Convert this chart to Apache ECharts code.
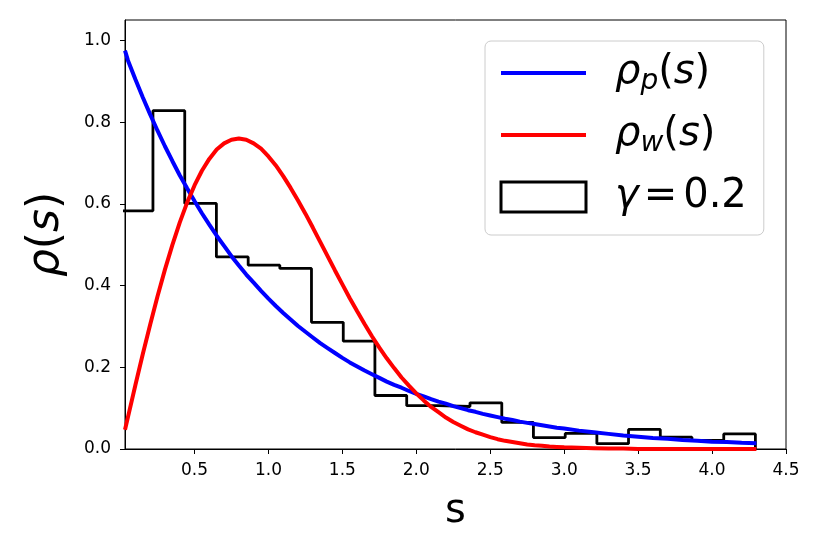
<!DOCTYPE html>
<html>
<head>
<meta charset="utf-8">
<script src="https://cdn.jsdelivr.net/npm/echarts@6/dist/echarts.min.js"></script>
<style>html,body{margin:0;padding:0;background:#fff;}#c{width:822px;height:548px;}</style>
</head>
<body>
<div id="c"></div>
<script>
// sampled s positions for the two reference curves
var sValues = [0.03,0.05,0.1,0.15,0.2,0.25,0.3,0.35,0.4,0.45,0.5,0.55,0.6,0.65,0.7,0.75,0.8,0.85,0.9,0.95,1.0,1.05,1.1,1.15,1.2,1.25,1.3,1.35,1.4,1.45,1.5,1.55,1.6,1.65,1.7,1.75,1.8,1.85,1.9,1.95,2.0,2.05,2.1,2.15,2.2,2.25,2.3,2.35,2.4,2.45,2.5,2.55,2.6,2.65,2.7,2.75,2.8,2.85,2.9,2.95,3.0,3.1,3.2,3.3,3.4,3.5,3.6,3.7,3.8,3.9,4.0,4.1,4.2,4.3];
// Poisson curve rho_p(s)
var poissonValues = [0.975,0.951,0.905,0.861,0.819,0.779,0.741,0.705,0.670,0.638,0.607,0.577,0.549,0.522,0.497,0.472,0.449,0.427,0.407,0.387,0.368,0.350,0.333,0.317,0.301,0.287,0.273,0.259,0.247,0.235,0.223,0.212,0.202,0.192,0.183,0.174,0.165,0.157,0.150,0.142,0.135,0.129,0.122,0.116,0.111,0.105,0.100,0.095,0.091,0.086,0.082,0.078,0.074,0.071,0.067,0.064,0.061,0.058,0.055,0.052,0.050,0.045,0.041,0.037,0.033,0.030,0.027,0.025,0.022,0.020,0.018,0.017,0.015,0.014];
// Wigner curve rho_w(s)
var wignerValues = [0.047,0.078,0.156,0.232,0.304,0.374,0.439,0.499,0.554,0.603,0.645,0.681,0.710,0.733,0.748,0.757,0.760,0.757,0.748,0.735,0.716,0.694,0.668,0.639,0.608,0.576,0.542,0.507,0.472,0.437,0.403,0.369,0.337,0.306,0.276,0.248,0.222,0.198,0.175,0.155,0.136,0.119,0.103,0.090,0.077,0.066,0.057,0.048,0.041,0.035,0.029,0.024,0.020,0.017,0.014,0.011,0.009,0.008,0.006,0.005,0.004,0.003,0.002,0.001,0.001,0.000,0.000,0.000,0.000,0.000,0.000,0.000,0.000,0.000];
// histogram (gamma = 0.2): bin edges and heights
var binEdges = [0.005,0.219,0.434,0.648,0.863,1.077,1.291,1.506,1.720,1.935,2.149,2.363,2.578,2.792,3.007,3.221,3.435,3.650,3.864,4.079,4.293];
var binHeights = [0.583,0.828,0.601,0.470,0.450,0.442,0.310,0.264,0.131,0.106,0.104,0.113,0.065,0.028,0.038,0.013,0.048,0.029,0.021,0.037];
// tick labels
var xTicks = [0.5,1.0,1.5,2.0,2.5,3.0,3.5,4.0,4.5];
var yTicks = [0.0,0.2,0.4,0.6,0.8,1.0];

var FONT = 'DejaVu Sans';
var histPoints = [[binEdges[0], 0]];
for (var i = 0; i < binHeights.length; i++) {
  histPoints.push([binEdges[i], binHeights[i]]);
  histPoints.push([binEdges[i + 1], binHeights[i]]);
}
histPoints.push([binEdges[binEdges.length - 1], 0]);

var legendRich = {
  it: {fontFamily: FONT, fontStyle: 'italic', fontSize: 40, color: '#000'},
  up: {fontFamily: FONT, fontSize: 40, color: '#000'},
  eq: {fontFamily: FONT, fontSize: 40, color: '#000', padding: [0, 6, 0, 5]},
  sub: {fontFamily: FONT, fontStyle: 'italic', fontSize: 28, color: '#000', padding: [18, 0, 0, 0]}
};
var axisRich = {
  it: {fontFamily: FONT, fontStyle: 'italic', fontSize: 44, color: '#000'},
  up: {fontFamily: FONT, fontSize: 44, color: '#000'}
};
var legendFmt = {
  'rho_p': '{it|ρ}{sub|p}{up|(}{it|s}{up|)}',
  'rho_w': '{it|ρ}{sub|w}{up|(}{it|s}{up|)}',
  'gamma': '{it|γ}{eq|=}{up|0.2}'
};

var chart = echarts.init(document.getElementById('c'), null, {renderer: 'canvas'});
chart.setOption({
  animation: false,
  backgroundColor: '#fff',
  grid: {left: 125, right: 36, top: 20, bottom: 99, show: true, borderColor: '#000', borderWidth: 1, backgroundColor: 'transparent'},
  xAxis: {
    type: 'value', min: 0.03, max: 4.5,
    name: 's', nameLocation: 'middle', nameGap: 43,
    nameTextStyle: {fontFamily: FONT, fontSize: 40, color: '#000'},
    axisLine: {show: true, onZero: false, lineStyle: {color: '#000', width: 1}},
    axisTick: {show: true, length: 5, lineStyle: {color: '#000', width: 1}, customValues: xTicks},
    axisLabel: {fontFamily: FONT, fontSize: 17, color: '#000', margin: 13, customValues: xTicks,
      formatter: function (v) { return v.toFixed(1); }},
    splitLine: {show: false}
  },
  yAxis: {
    type: 'value', min: 0, max: 1.05,
    name: '{it|ρ}{up|(}{it|s}{up|)}', nameLocation: 'middle', nameGap: 56, nameRotate: 90,
    nameTextStyle: {fontFamily: FONT, fontSize: 44, color: '#000', rich: axisRich},
    axisLine: {show: true, lineStyle: {color: '#000', width: 1}},
    axisTick: {show: true, length: 5, lineStyle: {color: '#000', width: 1}, customValues: yTicks},
    axisLabel: {fontFamily: FONT, fontSize: 17, color: '#000', margin: 14, customValues: yTicks,
      formatter: function (v) { return v.toFixed(1); }},
    splitLine: {show: false}
  },
  legend: {
    orient: 'vertical', left: 485, top: 41,
    padding: [12, 17, 18, 14], itemGap: 19,
    itemWidth: 85, itemHeight: 30,
    backgroundColor: 'rgba(255,255,255,0.8)', borderColor: '#cccccc', borderWidth: 1, borderRadius: 6,
    selectedMode: false,
    textStyle: {fontFamily: FONT, fontSize: 40, color: '#000', padding: [0, 0, 0, 24], rich: legendRich},
    formatter: function (n) { return legendFmt[n]; },
    data: [
      {name: 'rho_p', itemStyle: {opacity: 0}, lineStyle: {width: 4, color: '#0000ff'}},
      {name: 'rho_w', itemStyle: {opacity: 0}, lineStyle: {width: 4, color: '#ff0000'}},
      {name: 'gamma', icon: 'rect', itemStyle: {color: '#ffffff', borderColor: '#000000', borderWidth: 3}}
    ]
  },
  series: [
    {name: 'gamma', type: 'line', data: histPoints, symbol: 'none', smooth: false, z: 1,
      lineStyle: {color: '#000', width: 2.8}, itemStyle: {color: '#000'}, clip: true},
    {name: 'rho_p', type: 'line', data: sValues.map(function (s, i) { return [s, poissonValues[i]]; }),
      symbol: 'none', smooth: false, z: 2, lineStyle: {color: '#0000ff', width: 4}, itemStyle: {color: '#0000ff'}, clip: true},
    {name: 'rho_w', type: 'line', data: sValues.map(function (s, i) { return [s, wignerValues[i]]; }),
      symbol: 'none', smooth: false, z: 3, lineStyle: {color: '#ff0000', width: 4}, itemStyle: {color: '#ff0000'}, clip: true}
  ]
});
</script>
</body>
</html>
